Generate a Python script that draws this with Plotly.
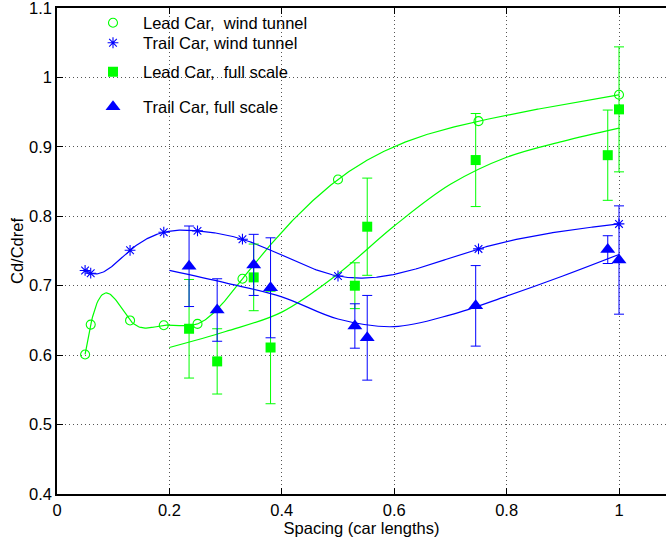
import numpy as np
import plotly.graph_objects as go

# Wind-tunnel measurements (lead and trail car share the same spacings)
wt_spacing = [0.05, 0.06, 0.13, 0.19, 0.25, 0.33, 0.50, 0.75, 1.00]
wt_lead_cd = [0.601, 0.644, 0.650, 0.643, 0.645, 0.710, 0.853, 0.937, 0.975]
wt_trail_cd = [0.722, 0.718, 0.751, 0.777, 0.779, 0.767, 0.714, 0.753, 0.789]

# Full-scale measurements with +/- uncertainty
fs_spacing = [0.235, 0.285, 0.35, 0.38, 0.53, 0.552, 0.745, 0.98, 1.00]
fs_lead_cd = [0.638, 0.591, 0.712, 0.611, 0.700, 0.785, 0.881, 0.888, 0.954]
fs_lead_err = [0.071, 0.047, 0.048, 0.081, 0.033, 0.070, 0.067, 0.065, 0.090]
fs_trail_cd = [0.728, 0.665, 0.730, 0.697, 0.642, 0.625, 0.671, 0.752, 0.737]
fs_trail_err = [0.058, 0.045, 0.044, 0.072, 0.032, 0.061, 0.058, 0.020, 0.078]

# Smoothed trend through the full-scale data
trend_spacing = [0.2, 0.3, 0.4, 0.5, 0.6, 0.7, 0.8, 0.9, 1.0]
trend_lead_cd = [0.611, 0.634, 0.662, 0.717, 0.786, 0.846, 0.885, 0.908, 0.927]
trend_trail_cd = [0.722, 0.704, 0.684, 0.652, 0.641, 0.658, 0.685, 0.714, 0.745]

x_ticks = [0, 0.2, 0.4, 0.6, 0.8, 1.0]
y_ticks = [0.4, 0.5, 0.6, 0.7, 0.8, 0.9, 1.0, 1.1]

GREEN = "#00ff00"
BLUE = "#0000ff"
FONT = "Liberation Sans, Arial, Helvetica, sans-serif"
FS = 16.5


def spline_curve(x, y, n=500):
    """Natural cubic spline through (x, y), sampled on n points."""
    x = np.asarray(x, float)
    y = np.asarray(y, float)
    m = len(x)
    h = np.diff(x)
    A = np.zeros((m, m))
    b = np.zeros(m)
    A[0, 0] = 1.0
    A[-1, -1] = 1.0
    for i in range(1, m - 1):
        A[i, i - 1] = h[i - 1]
        A[i, i] = 2 * (h[i - 1] + h[i])
        A[i, i + 1] = h[i]
        b[i] = 6 * ((y[i + 1] - y[i]) / h[i] - (y[i] - y[i - 1]) / h[i - 1])
    M = np.linalg.solve(A, b)
    xs = np.linspace(x[0], x[-1], n)
    k = np.clip(np.searchsorted(x, xs) - 1, 0, m - 2)
    x0, x1 = x[k], x[k + 1]
    hh = x1 - x0
    ys = ((M[k] * (x1 - xs) ** 3 + M[k + 1] * (xs - x0) ** 3) / (6 * hh)
          + (y[k] / hh - M[k] * hh / 6) * (x1 - xs)
          + (y[k + 1] / hh - M[k + 1] * hh / 6) * (xs - x0))
    return xs, ys


fig = go.Figure()

# Spline curves through the wind-tunnel points
for cd, color in ((wt_lead_cd, GREEN), (wt_trail_cd, BLUE)):
    sx, sy = spline_curve(wt_spacing, cd)
    fig.add_trace(go.Scatter(x=sx, y=sy, mode="lines", showlegend=False,
                             line=dict(color=color, width=1.2), hoverinfo="skip"))

# Trend curves of the full-scale data
for cd, color in ((trend_lead_cd, GREEN), (trend_trail_cd, BLUE)):
    fig.add_trace(go.Scatter(x=trend_spacing, y=cd, mode="lines", showlegend=False,
                             line=dict(color=color, width=1.2, shape="spline", smoothing=1.0),
                             hoverinfo="skip"))

fig.add_trace(go.Scatter(
    x=wt_spacing, y=wt_lead_cd, mode="markers", name="Lead Car,  wind tunnel",
    marker=dict(symbol="circle-open", size=9, color=GREEN, line=dict(width=1.1)),
    legend="legend"))
fig.add_trace(go.Scatter(
    x=wt_spacing, y=wt_trail_cd, mode="markers", name="Trail Car, wind tunnel",
    marker=dict(symbol="asterisk-open", size=9, color=BLUE, line=dict(width=1.1, color=BLUE)),
    legend="legend2"))
fig.add_trace(go.Scatter(
    x=fs_spacing, y=fs_lead_cd, mode="markers", name="Lead Car,  full scale",
    marker=dict(symbol="square", size=10, color=GREEN),
    error_y=dict(type="data", array=fs_lead_err, color=GREEN, thickness=1, width=5),
    legend="legend3"))
fig.add_trace(go.Scatter(
    x=fs_spacing, y=fs_trail_cd, mode="markers", name="Trail Car, full scale",
    marker=dict(symbol="triangle-up", size=13, color=BLUE),
    error_y=dict(type="data", array=fs_trail_err, color=BLUE, thickness=1, width=5),
    legend="legend4"))

L, T, B = 57, 8, 45
W, H = 666, 539
pw, ph = W - L, H - T - B


def legend_at(px, py):
    return dict(x=(px - L) / pw, y=(H - B - py) / ph, xanchor="left", yanchor="middle",
                bgcolor="rgba(0,0,0,0)", borderwidth=0, itemwidth=50,
                font=dict(family=FONT, size=FS, color="black"))


grid = dict(showgrid=True, gridcolor="#555555", griddash="1px,3px", gridwidth=1,
            zeroline=False, showline=True, linecolor="black", linewidth=1.5,
            ticks="inside", ticklen=6, tickcolor="black", tickwidth=1,
            ticklabeloverflow="allow",
            tickfont=dict(family=FONT, size=FS, color="black"))

fig.update_layout(
    width=W, height=H,
    margin=dict(l=L, r=0, t=T, b=B, autoexpand=False),
    paper_bgcolor="white", plot_bgcolor="white",
    font=dict(family=FONT, size=FS, color="black"),
    xaxis=dict(range=[0, (W - L) / 562.0], tickvals=x_ticks,
               ticktext=[f"{v:g}" for v in x_ticks], mirror="ticks",
               title=dict(text="Spacing (car lengths)", standoff=2,
                          font=dict(family=FONT, size=FS)), **grid),
    yaxis=dict(range=[0.4, 1.1], tickvals=y_ticks,
               ticktext=[f"{v:g}" for v in y_ticks], mirror=False,
               title=dict(text="Cd/Cdref", standoff=1,
                          font=dict(family=FONT, size=FS)), **grid),
    legend=legend_at(83, 23),
    legend2=legend_at(83, 43),
    legend3=legend_at(83, 72),
    legend4=legend_at(83, 107),
)

fig.write_html("out.html")
